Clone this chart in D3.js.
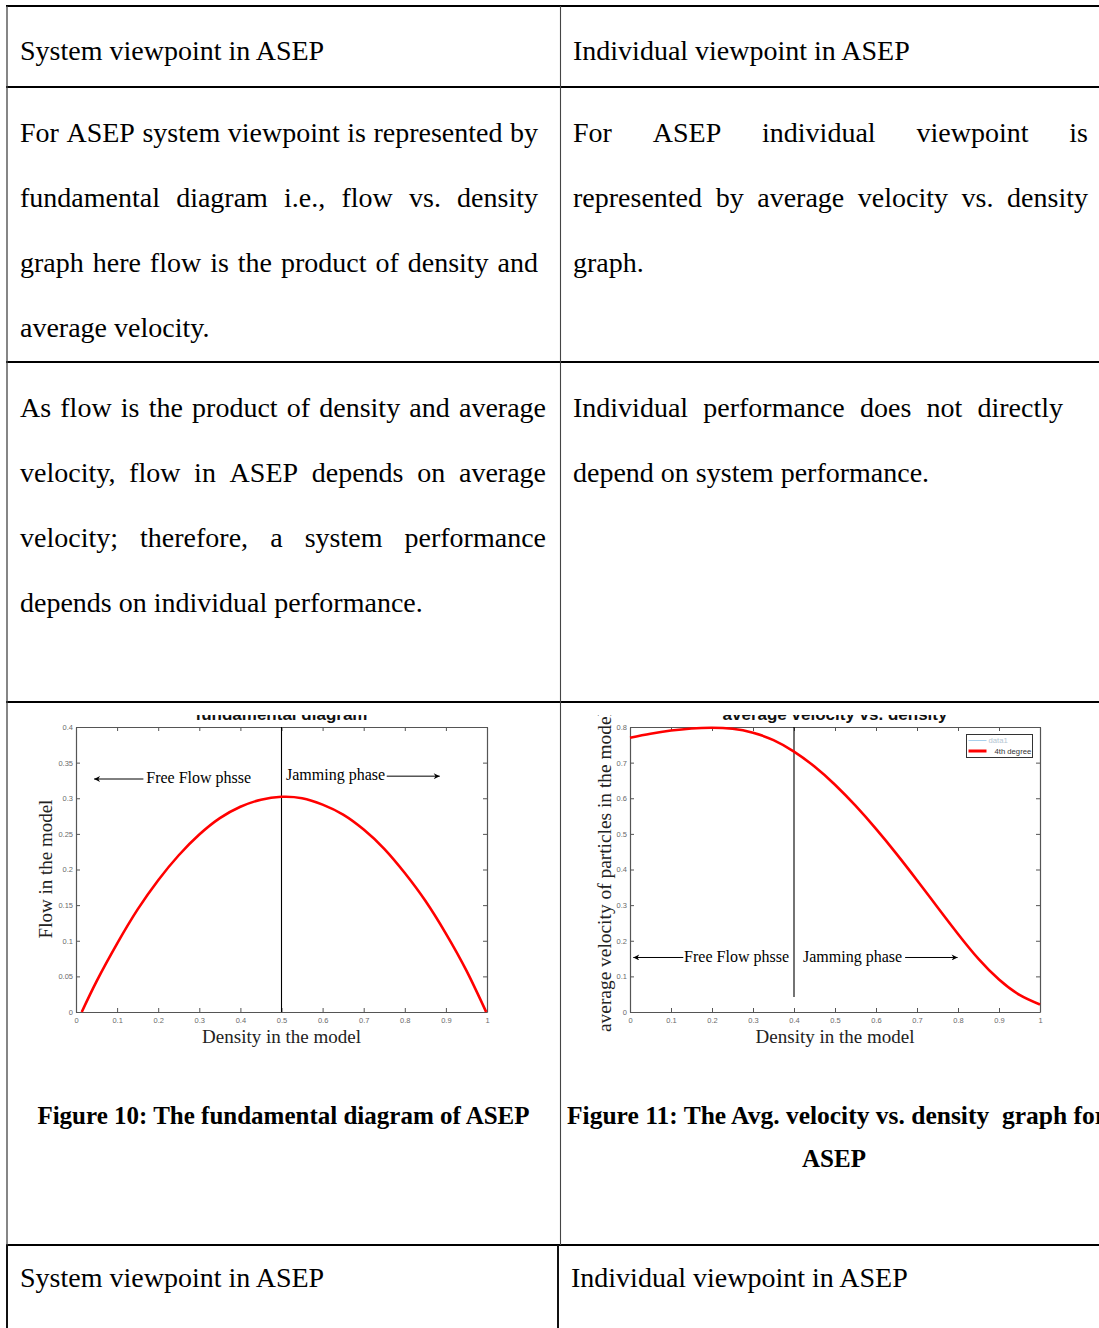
<!DOCTYPE html>
<html>
<head>
<meta charset="utf-8">
<script src="https://cdn.jsdelivr.net/npm/d3@7"></script>
<style>
  body { margin: 0; background: #fff; }
  svg { display: block; }
</style>
</head>
<body>
<svg id="page" width="1099" height="1328"></svg>
<script>
"use strict";

// ---- data ----
var flowDensity = [0.014, 0.05, 0.1, 0.15, 0.2, 0.25, 0.3, 0.35, 0.4, 0.45, 0.5,
                   0.55, 0.6, 0.65, 0.7, 0.75, 0.8, 0.85, 0.9, 0.95, 0.998];
var flowValues  = [0, 0.043, 0.096, 0.144, 0.185, 0.22, 0.249, 0.272, 0.288, 0.298, 0.302,
                   0.3, 0.291, 0.277, 0.256, 0.229, 0.195, 0.156, 0.11, 0.058, 0];

var velDensity = [0, 0.05, 0.1, 0.15, 0.2, 0.25, 0.3, 0.35, 0.4, 0.45, 0.5,
                  0.55, 0.6, 0.65, 0.7, 0.75, 0.8, 0.85, 0.9, 0.95, 1];
var velValues  = [0.77, 0.781, 0.79, 0.796, 0.798, 0.795, 0.784, 0.763, 0.731, 0.689, 0.638,
                  0.579, 0.514, 0.444, 0.37, 0.294, 0.219, 0.149, 0.091, 0.048, 0.021];

var densityTicks = [0, 0.1, 0.2, 0.3, 0.4, 0.5, 0.6, 0.7, 0.8, 0.9, 1];
var flowTicks = [0, 0.05, 0.1, 0.15, 0.2, 0.25, 0.3, 0.35, 0.4];
var velTicks = [0, 0.1, 0.2, 0.3, 0.4, 0.5, 0.6, 0.7, 0.8];

var legendLabels = ["data1", "4th degree"];

// table text
var headLeft = "System viewpoint in ASEP";
var headRight = "Individual viewpoint in ASEP";
var row2Left = ["For ASEP system viewpoint is represented by",
                "fundamental diagram i.e., flow vs. density",
                "graph here flow is the product of density and",
                "average velocity."];
var row2Right = ["For ASEP individual viewpoint is",
                 "represented by average velocity vs. density",
                 "graph."];
var row3Left = ["As flow is the product of density and average",
                "velocity, flow in ASEP depends on average",
                "velocity; therefore, a system performance",
                "depends on individual performance."];
var row3Right = ["Individual performance does not directly",
                 "depend on system performance."];
var caption10 = "Figure 10: The fundamental diagram of ASEP";
var caption11 = ["Figure 11: The Avg. velocity vs. density\u00a0 graph for", "ASEP"];

var SERIF = "'Liberation Serif', 'Times New Roman', serif";
var SANS = "'Liberation Sans', Arial, sans-serif";

var svg = d3.select("#page");
svg.append("rect").attr("width", 1099).attr("height", 1328).attr("fill", "#fff");

// ---- table grid ----
var grid = svg.append("g");
[6, 87, 362, 702, 1245].forEach(function(y) {
    grid.append("line").attr("x1", 6).attr("x2", 1099).attr("y1", y).attr("y2", y)
        .attr("stroke", "#000").attr("stroke-width", 2.2);
});
grid.append("line").attr("x1", 7).attr("x2", 7).attr("y1", 6).attr("y2", 1245)
    .attr("stroke", "#444").attr("stroke-width", 1.3);
grid.append("line").attr("x1", 560.5).attr("x2", 560.5).attr("y1", 6).attr("y2", 1245)
    .attr("stroke", "#444").attr("stroke-width", 1.1);
grid.append("line").attr("x1", 7).attr("x2", 7).attr("y1", 1245).attr("y2", 1328)
    .attr("stroke", "#111").attr("stroke-width", 2);
grid.append("line").attr("x1", 558).attr("x2", 558).attr("y1", 1245).attr("y2", 1328)
    .attr("stroke", "#111").attr("stroke-width", 2);

// write a line of words, spread to fill x0..x1 when justified
function textLine(g, str, x0, x1, y, justify) {
    var t = g.append("text").attr("y", y)
        .attr("font-family", SERIF).attr("font-size", 28).attr("fill", "#000");
    if (!justify) { t.attr("x", x0).text(str); return; }
    var words = str.split(" ");
    var spans = words.map(function(w) { return t.append("tspan").text(w); });
    var widths = spans.map(function(s) { return s.node().getComputedTextLength(); });
    var gap = (x1 - x0 - d3.sum(widths)) / (words.length - 1);
    var x = x0;
    spans.forEach(function(s, i) { s.attr("x", x); x += widths[i] + gap; });
}

function paragraph(g, lines, x0, x1, y0) {
    lines.forEach(function(l, i) {
        textLine(g, l, x0, x1, y0 + i * 65, i < lines.length - 1);
    });
}

var txt = svg.append("g");
textLine(txt, headLeft, 20, 0, 60, false);
textLine(txt, headRight, 573, 0, 60, false);
paragraph(txt, row2Left, 20, 538, 142);
paragraph(txt, row2Right, 573, 1088, 142);
paragraph(txt, row3Left, 20, 546, 417);
paragraph(txt, row3Right, 573, 1063, 417);
textLine(txt, headLeft, 20, 0, 1287, false);
textLine(txt, headRight, 571, 0, 1287, false);

// captions
txt.append("text").attr("x", 283.5).attr("y", 1124).attr("text-anchor", "middle")
    .attr("font-family", SERIF).attr("font-size", 25).attr("font-weight", "bold")
    .text(caption10);
txt.append("text").attr("x", 567).attr("y", 1124)
    .attr("font-family", SERIF).attr("font-size", 25.5).attr("font-weight", "bold")
    .text(caption11[0]);
txt.append("text").attr("x", 834).attr("y", 1167).attr("text-anchor", "middle")
    .attr("font-family", SERIF).attr("font-size", 25).attr("font-weight", "bold")
    .text(caption11[1]);

// ---- arrow marker ----
var defs = svg.append("defs");
defs.append("marker").attr("id", "arrow")
    .attr("viewBox", "0 -5 10 10").attr("refX", 10).attr("refY", 0)
    .attr("markerWidth", 9).attr("markerHeight", 6).attr("markerUnits", "userSpaceOnUse")
    .attr("orient", "auto")
    .append("path").attr("d", "M0,-5L10,0L0,5L3,0Z").attr("fill", "#000");
defs.append("clipPath").attr("id", "figclip")
    .append("rect").attr("x", 8).attr("y", 715).attr("width", 1091).attr("height", 400);

// ---- chart drawing ----
function drawChart(opt) {
    var g = svg.append("g").attr("clip-path", "url(#figclip)");
    var x = d3.scaleLinear().domain([0, 1]).range(opt.xRange);
    var y = d3.scaleLinear().domain(opt.yDomain).range(opt.yRange);
    var fmt = d3.format("~g");

    // title (cut off by the image crop)
    g.append("text").attr("x", (opt.xRange[0] + opt.xRange[1]) / 2).attr("y", 719.5)
        .attr("text-anchor", "middle").attr("font-family", SANS)
        .attr("font-size", 17).attr("font-weight", "bold").attr("fill", "#111")
        .text(opt.title);

    var axes = [
        d3.axisBottom(x).tickValues(densityTicks).tickFormat(fmt),
        d3.axisTop(x).tickValues(densityTicks).tickFormat(""),
        d3.axisLeft(y).tickValues(opt.yTicks).tickFormat(fmt),
        d3.axisRight(y).tickValues(opt.yTicks).tickFormat("")
    ];
    var shifts = ["translate(0," + opt.yRange[0] + ")", "translate(0," + opt.yRange[1] + ")",
                  "translate(" + opt.xRange[0] + ",0)", "translate(" + opt.xRange[1] + ",0)"];
    axes.forEach(function(ax, i) {
        var a = g.append("g").attr("transform", shifts[i])
            .call(ax.tickSize(-4).tickSizeOuter(0).tickPadding(i === 0 ? 6 : 3));
        a.select(".domain").attr("stroke", "#555").attr("stroke-width", 1.2);
        a.selectAll(".tick line").attr("stroke", "#555");
        a.selectAll(".tick text").attr("fill", "#6a6a6a")
            .attr("font-family", SANS).attr("font-size", 7.5);
    });

    // phase separation line
    g.append("line").attr("x1", x(opt.split)).attr("x2", x(opt.split))
        .attr("y1", y(opt.yDomain[1])).attr("y2", y(opt.splitEnd))
        .attr("stroke", "#000").attr("stroke-width", 1.1);

    // curve
    var line = d3.line().curve(d3.curveNatural)
        .x(function(d) { return x(d[0]); }).y(function(d) { return y(d[1]); });
    g.append("path").datum(d3.zip(opt.xs, opt.ys)).attr("d", line)
        .attr("fill", "none").attr("stroke", "#ff0000").attr("stroke-width", 2.6);

    // phase annotations
    var a = opt.ann;
    g.append("line").attr("x1", x(a.leftFrom)).attr("x2", x(a.leftTo))
        .attr("y1", y(a.leftY)).attr("y2", y(a.leftY))
        .attr("stroke", "#000").attr("marker-end", "url(#arrow)");
    g.append("text").attr("x", x(a.leftText)).attr("y", y(a.leftTextY))
        .attr("font-family", SERIF).attr("font-size", 16).text("Free Flow phsse");
    g.append("text").attr("x", x(a.rightText)).attr("y", y(a.rightTextY))
        .attr("font-family", SERIF).attr("font-size", 16).text("Jamming phase");
    g.append("line").attr("x1", x(a.rightFrom)).attr("x2", x(a.rightTo))
        .attr("y1", y(a.rightY)).attr("y2", y(a.rightY))
        .attr("stroke", "#000").attr("marker-end", "url(#arrow)");

    // axis labels
    g.append("text").attr("x", (opt.xRange[0] + opt.xRange[1]) / 2).attr("y", 1043)
        .attr("text-anchor", "middle").attr("font-family", SERIF).attr("font-size", 19)
        .attr("fill", "#222").text("Density in the model");
    g.append("text").attr("transform", "translate(" + opt.yLabelX + "," + opt.yLabelY + ") rotate(-90)")
        .attr("text-anchor", opt.yLabelAnchor).attr("font-family", SERIF)
        .attr("font-size", opt.yLabelSize)
        .attr("fill", "#222").text(opt.yLabel);
    return { g: g, x: x, y: y };
}

drawChart({
    xRange: [76, 487], yDomain: [0, 0.4], yRange: [1012, 727],
    yTicks: flowTicks, xs: flowDensity, ys: flowValues,
    title: "fundamental diagram", split: 0.5, splitEnd: 0,
    ann: { leftFrom: 0.164, leftTo: 0.044, leftY: 0.327, leftText: 0.171, leftTextY: 0.322,
           rightText: 0.511, rightTextY: 0.325, rightFrom: 0.756, rightTo: 0.885, rightY: 0.331 },
    yLabel: "Flow in the model", yLabelX: 52, yLabelY: 869, yLabelAnchor: "middle", yLabelSize: 19
});

var right = drawChart({
    xRange: [630, 1040], yDomain: [0, 0.8], yRange: [1012, 727],
    yTicks: velTicks, xs: velDensity, ys: velValues,
    title: "average velocity  vs. density", split: 0.4, splitEnd: 0.042,
    ann: { leftFrom: 0.13, leftTo: 0.008, leftY: 0.153, leftText: 0.132, leftTextY: 0.14,
           rightText: 0.422, rightTextY: 0.14, rightFrom: 0.671, rightTo: 0.799, rightY: 0.153 },
    yLabel: "average velocity of particles in the model", yLabelX: 611, yLabelY: 1032,
    yLabelAnchor: "start", yLabelSize: 19.4
});

// legend of the velocity chart
var lg = right.g.append("g").attr("transform", "translate(966.5,734.5)");
lg.append("rect").attr("width", 66).attr("height", 23)
    .attr("fill", "#fff").attr("stroke", "#333").attr("stroke-width", 1);
var legendStyle = [{ c: "#a8d0ec", w: 1, dx: 22 }, { c: "#ff0000", w: 3, dx: 28 }];
legendLabels.forEach(function(l, i) {
    var yy = 6 + i * 10.5;
    lg.append("line").attr("x1", 2).attr("x2", 20).attr("y1", yy).attr("y2", yy)
        .attr("stroke", legendStyle[i].c).attr("stroke-width", legendStyle[i].w);
    lg.append("text").attr("x", legendStyle[i].dx).attr("y", yy + 2.6)
        .attr("font-family", SANS).attr("font-size", 7.7)
        .attr("fill", i === 0 ? "#b5c6d3" : "#333").text(l);
});
</script>
</body>
</html>
